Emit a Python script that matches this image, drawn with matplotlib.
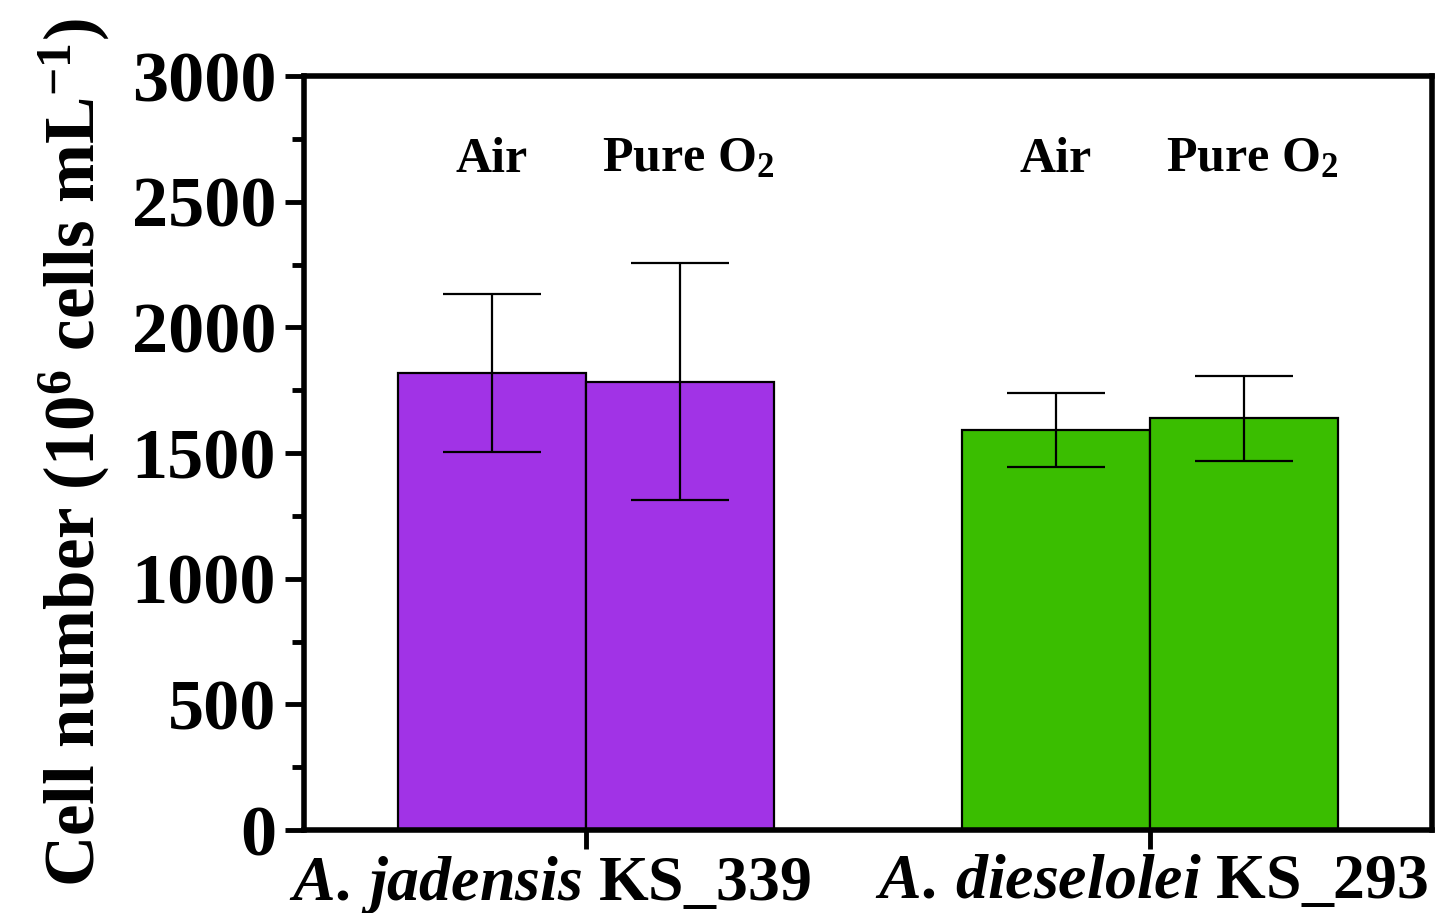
import numpy as np
import matplotlib.pyplot as plt
from matplotlib.ticker import MultipleLocator

plt.rcParams['font.family'] = 'Liberation Serif'
plt.rcParams['font.weight'] = 'bold'
plt.rcParams['mathtext.fontset'] = 'custom'
plt.rcParams['mathtext.rm'] = 'Liberation Serif:bold'
plt.rcParams['mathtext.it'] = 'Liberation Serif:italic:bold'
plt.rcParams['mathtext.bf'] = 'Liberation Serif:bold'
plt.rcParams['mathtext.default'] = 'regular'

# Data
strains = [r'$\mathit{A.\,jadensis}$ KS_339', r'$\mathit{A.\,dieselolei}$ KS_293']
conditions = ['Air', r'Pure O$_2$']
air_mean = [1818, 1592]
air_err = [316, 147]
o2_mean = [1783, 1639]
o2_err = [471, 169]
strain_colors = ['#a133e6', '#3abe00']

fig = plt.figure(figsize=(14.36, 9.13), dpi=100)
ax = fig.add_axes([304 / 1436, 83 / 913, 1128 / 1436, 754 / 913])

x = np.arange(len(strains))
w = 1 / 3
err_kw = dict(ecolor='black', elinewidth=1.6, capsize=35, capthick=1.6)
ax.bar(x - w / 2, air_mean, w, yerr=air_err, color=strain_colors,
       edgecolor='black', linewidth=1.6, error_kw=err_kw, zorder=2)
ax.bar(x + w / 2, o2_mean, w, yerr=o2_err, color=strain_colors,
       edgecolor='black', linewidth=1.6, error_kw=err_kw, zorder=2)

# condition labels above bars
for i in x:
    ax.text(i - w / 2, 2620, conditions[0], ha='center', va='baseline', fontsize=36)
    ax.text(i + w / 2 + 0.015, 2620, conditions[1], ha='center', va='baseline', fontsize=36)

ax.set_xlim(-0.5, 1.5)
ax.set_ylim(0, 3000)
ax.set_xticks(x)
ax.set_xticklabels([])
# strain names under the ticks (first one sits a bit left of its tick)
shifts = [-26, 1]
for i, name in enumerate(strains):
    ax.annotate(name, xy=(x[i], 0), xycoords=('data', 'axes fraction'),
                xytext=(shifts[i], -17), textcoords='offset points',
                ha='center', va='top', fontsize=46)

ax.yaxis.set_major_locator(MultipleLocator(500))
ax.yaxis.set_minor_locator(MultipleLocator(250))
ax.tick_params(axis='y', which='major', direction='out', length=14, width=3.5, labelsize=52, pad=6)
ax.tick_params(axis='y', which='minor', direction='out', length=8.5, width=3.5)
ax.tick_params(axis='x', which='major', direction='out', length=14, width=3.5)

for s in ax.spines.values():
    s.set_linewidth(4)

ax.set_ylabel(r'Cell number (10$^{6}$ cells mL$^{-1}$)', fontsize=51, fontweight='bold', labelpad=14)

fig.savefig('out.png', dpi=100)
